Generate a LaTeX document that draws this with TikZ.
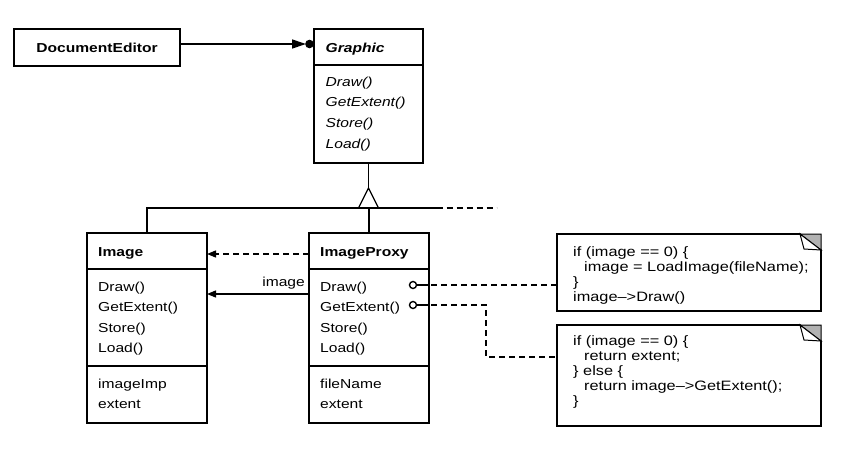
\documentclass[tikz,border=0pt]{standalone}
\usepackage{fontspec}
\setmainfont{Liberation Sans}[FakeStretch=1.2]
\usetikzlibrary{arrows.meta,calc}
\tikzset{
  classbox/.style={draw, line width=1.6pt, inner sep=0pt, outer sep=0pt, anchor=north west},
  notebox/.style={inner sep=0pt, outer sep=0pt, anchor=north west, minimum width=264pt},
  mtext/.style={anchor=base west, inner sep=0pt, font=\fontsize{13}{15}\selectfont},
  ntext/.style={anchor=base west, inner sep=0pt, font=\fontsize{13.6}{15}\selectfont},
  conn/.style={line width=1.3pt},
  dashconn/.style={line width=1.3pt, dash pattern=on 6pt off 4pt},
  tipa/.style={-{Triangle[length=9pt,width=7pt]}},
  lollipop/.style={draw, circle, minimum size=7pt, inner sep=0pt, line width=1.4pt},
}
\begin{document}
\begin{tikzpicture}[x=1pt,y=-1pt]
\useasboundingbox (0,0) rectangle (843,450);

% ---------- DocumentEditor ----------
\node[classbox, minimum width=166pt, minimum height=37pt] (de) at (14,29) {};
\node[inner sep=0pt, font=\fontsize{13}{15}\selectfont\bfseries] (detext) at (de.center) {DocumentEditor};

% ---------- Graphic ----------
\node[classbox, minimum width=109pt, minimum height=134pt] (graphic) at (314,29) {};
\draw[line width=1.6pt] (graphic.west |- 0,65) -- (graphic.east |- 0,65);
\node[mtext] (gname) at (325.5,52) {\bfseries\itshape Graphic};
\node[mtext] (g1) at (325.5,86) {\itshape Draw()};
\node[mtext] (g2) at (325.5,106.7) {\itshape GetExtent()};
\node[mtext] (g3) at (325.5,127.3) {\itshape Store()};
\node[mtext] (g4) at (325.5,148) {\itshape Load()};

% ---------- Image ----------
\node[classbox, minimum width=120pt, minimum height=190pt] (image) at (87,233) {};
\draw[line width=1.6pt] (image.west |- 0,269) -- (image.east |- 0,269);
\draw[line width=1.6pt] (image.west |- 0,366) -- (image.east |- 0,366);
\node[mtext] (iname) at (98,256) {\bfseries Image};
\node[mtext] (i1) at (98,291) {Draw()};
\node[mtext] (i2) at (98,311.5) {GetExtent()};
\node[mtext] (i3) at (98,332) {Store()};
\node[mtext] (i4) at (98,352.5) {Load()};
\node[mtext] (i5) at (98,388.5) {imageImp};
\node[mtext] (i6) at (98,408.5) {extent};

% ---------- ImageProxy ----------
\node[classbox, minimum width=120pt, minimum height=190pt] (proxy) at (309,233) {};
\draw[line width=1.6pt] (proxy.west |- 0,269) -- (proxy.east |- 0,269);
\draw[line width=1.6pt] (proxy.west |- 0,366) -- (proxy.east |- 0,366);
\node[mtext] (pname) at (320,256) {\bfseries ImageProxy};
\node[mtext] (p1) at (320,291) {Draw()};
\node[mtext] (p2) at (320,311.5) {GetExtent()};
\node[mtext] (p3) at (320,332) {Store()};
\node[mtext] (p4) at (320,352.5) {Load()};
\node[mtext] (p5) at (320,388.5) {fileName};
\node[mtext] (p6) at (320,408.5) {extent};

% ---------- Notes ----------
\node[notebox, minimum height=77pt] (n1) at (557,234) {};
\node[notebox, minimum height=101pt] (n2) at (557,325) {};
\foreach \n in {n1,n2}{
  \draw[line width=1.6pt] (\n.north west) -- ($(\n.north east)+(-21,0)$) -- ($(\n.north east)+(0,16)$)
        -- (\n.south east) -- (\n.south west) -- cycle;
  \filldraw[fill=gray!60, line width=1pt] ($(\n.north east)+(-21,0)$) -- (\n.north east) -- ($(\n.north east)+(0,16)$) -- cycle;
  \draw[line width=1pt, fill=white] ($(\n.north east)+(-21,0)$) -- ($(\n.north east)+(-17,15)$) -- ($(\n.north east)+(0,16)$) -- cycle;
}
\node[ntext] (t11) at (573,256.5) {if (image == 0) \{};
\node[ntext] (t12) at (584,271.5) {image = LoadImage(fileName);};
\node[ntext] (t13) at (573,286.5) {\}};
\node[ntext] (t14) at (573,301.5) {image–>Draw()};

\node[ntext] (t21) at (573,345.5) {if (image == 0) \{};
\node[ntext] (t22) at (584,360.5) {return extent;};
\node[ntext] (t23) at (573,375.5) {\} else \{};
\node[ntext] (t24) at (584,390.5) {return image–>GetExtent();};
\node[ntext] (t25) at (573,405.5) {\}};

% ---------- Connectors ----------
% DocumentEditor -> Graphic
\coordinate (dotc) at ($(graphic.north west)+(-4.5,15)$);
\draw[conn, -{Triangle[length=14pt,width=9pt]}] (de.east |- dotc) -- ([xshift=-3.5pt]dotc);
\fill (dotc) circle (4.3);

% generalization
\coordinate (apex) at ($(graphic.south)+(0,25)$);
\coordinate (bar) at ($(apex)+(0,20)$);
\draw[conn] (graphic.south) -- (apex);
\draw[conn, line join=miter] (apex) -- ++(-10,20) -- ++(20,0) -- cycle;
\draw[conn] (image.north) -- (image.north |- bar) -- ($(bar)+(74,0)$);
\draw[conn] (proxy.north) -- (proxy.north |- bar);
\draw[dashconn] ($(bar)+(78,0)$) -- ($(bar)+(128,0)$);

% ImageProxy -> Image
\draw[dashconn, tipa] (proxy.west |- 0,254) -- (image.east |- 0,254);
\draw[conn, tipa] (proxy.west |- 0,294) -- (image.east |- 0,294);
\node[mtext, anchor=base east] (lbl) at (305,286.5) {image};

% lollipops to notes
\node[lollipop] (c1) at (413,285) {};
\node[lollipop] (c2) at (413,305) {};
\draw[conn] (c1.east) -- (proxy.east |- c1);
\draw[conn] (c2.east) -- (proxy.east |- c2);
\draw[dashconn] ([xshift=2pt]proxy.east |- c1) -- (n1.west |- c1);
\coordinate (bend1) at (486,305);
\coordinate (bend2) at (486,357);
\draw[dashconn] ([xshift=2pt]proxy.east |- c2) -- (bend1) -- (bend2) -- (n2.west |- bend2);
\end{tikzpicture}
\end{document}
